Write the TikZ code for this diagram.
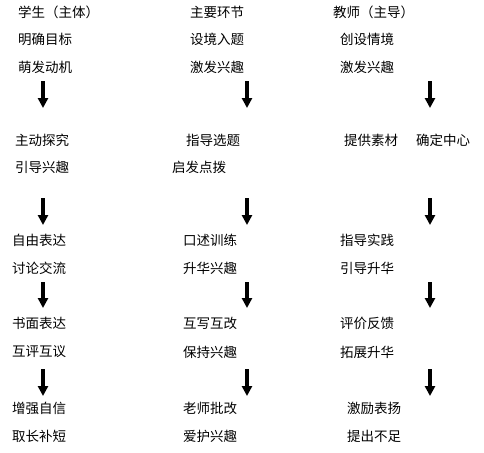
\documentclass[tikz,border=0pt]{standalone}
\usepackage{fontspec}
\newfontfamily\cjk{Noto Sans CJK SC}
\usetikzlibrary{arrows.meta}

\begin{document}
\begin{tikzpicture}[x=1pt, y=-1pt,
  lbl/.style={anchor=west, inner sep=0pt, font=\cjk\fontsize{13.5}{16}\selectfont},
  arr/.style={-{Triangle[length=10pt,width=10pt]}, line width=3.5pt}
]
\useasboundingbox (0,0) rectangle (484,452);

% student column
\node[lbl] (stu) at (18,12) {学生（主体）};
\node[lbl] (stuA) at (18,39) {明确目标};
\node[lbl] (stuB) at (18,67) {萌发动机};
\node[lbl] (stuC) at (15,140) {主动探究};
\node[lbl] (stuD) at (15,167) {引导兴趣};
\node[lbl] (stuE) at (12,240) {自由表达};
\node[lbl] (stuF) at (12,268) {讨论交流};
\node[lbl] (stuG) at (12,323) {书面表达};
\node[lbl] (stuH) at (12,352) {互评互议};
\node[lbl] (stuI) at (12,408) {增强自信};
\node[lbl] (stuJ) at (12,436) {取长补短};

% main steps column
\node[lbl] (stp) at (190,12) {主要环节};
\node[lbl] (stpA) at (190,39) {设境入题};
\node[lbl] (stpB) at (190,67) {激发兴趣};
\node[lbl] (stpC) at (186,140) {指导选题};
\node[lbl] (stpD) at (172,167) {启发点拨};
\node[lbl] (stpE) at (183,240) {口述训练};
\node[lbl] (stpF) at (183,268) {升华兴趣};
\node[lbl] (stpG) at (183,323) {互写互改};
\node[lbl] (stpH) at (183,352) {保持兴趣};
\node[lbl] (stpI) at (183,408) {老师批改};
\node[lbl] (stpJ) at (183,436) {爱护兴趣};

% teacher column
\node[lbl] (tea) at (333,12) {教师（主导）};
\node[lbl] (teaA) at (340,39) {创设情境};
\node[lbl] (teaB) at (340,67) {激发兴趣};
\node[lbl] (teaC) at (344,140) {提供素材};
\node[lbl] (teaC2) at (416,140) {确定中心};
\node[lbl] (teaE) at (340,240) {指导实践};
\node[lbl] (teaF) at (340,268) {引导升华};
\node[lbl] (teaG) at (340,323) {评价反馈};
\node[lbl] (teaH) at (340,352) {拓展升华};
\node[lbl] (teaI) at (347,408) {激励表扬};
\node[lbl] (teaJ) at (347,436) {提出不足};

% arrows
\coordinate (s1) at (43,81);   \coordinate (e1) at (43,108);
\coordinate (s2) at (247,81);  \coordinate (e2) at (247,108);
\coordinate (s3) at (430,81);  \coordinate (e3) at (430,108);
\coordinate (s4) at (43,198);  \coordinate (e4) at (43,225);
\coordinate (s5) at (247,198); \coordinate (e5) at (247,225);
\coordinate (s6) at (430,198); \coordinate (e6) at (430,225);
\coordinate (s7) at (43,282);  \coordinate (e7) at (43,308);
\coordinate (s8) at (247,282); \coordinate (e8) at (247,308);
\coordinate (s9) at (430,282); \coordinate (e9) at (430,308);
\coordinate (s10) at (43,369);  \coordinate (e10) at (43,396);
\coordinate (s11) at (247,369); \coordinate (e11) at (247,396);
\coordinate (s12) at (430,369); \coordinate (e12) at (430,396);

\draw[arr] (s1) -- (e1);
\draw[arr] (s2) -- (e2);
\draw[arr] (s3) -- (e3);
\draw[arr] (s4) -- (e4);
\draw[arr] (s5) -- (e5);
\draw[arr] (s6) -- (e6);
\draw[arr] (s7) -- (e7);
\draw[arr] (s8) -- (e8);
\draw[arr] (s9) -- (e9);
\draw[arr] (s10) -- (e10);
\draw[arr] (s11) -- (e11);
\draw[arr] (s12) -- (e12);
\end{tikzpicture}
\end{document}
